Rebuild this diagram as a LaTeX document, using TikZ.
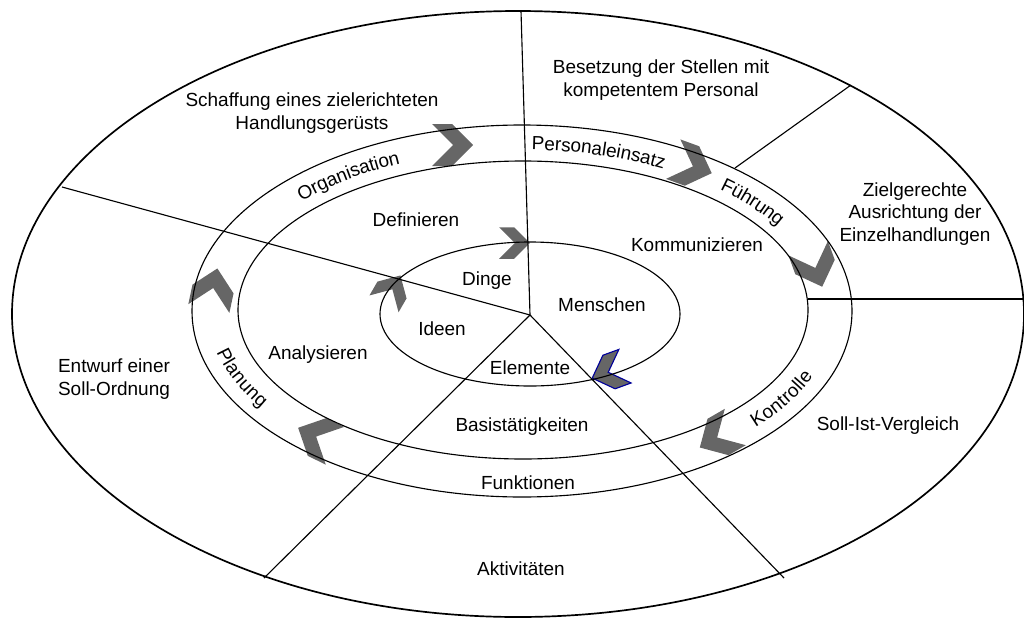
\documentclass[tikz,border=0pt]{standalone}
\usepackage{fontspec}
\setmainfont{Liberation Sans}
\usetikzlibrary{decorations.text}

\newcommand{\ringfont}{\fontsize{13.5}{16}\selectfont}

% fat office-style chevron, pointing along +x
\tikzset{
  pics/chevron/.style={code={
    \path[pic actions] (-20,-21) -- (0,-21) -- (21,0) -- (0,21) -- (-20,21) -- (1,0) -- cycle;
  }},
}

\begin{document}
\begin{tikzpicture}[
  x=0.025cm, y=-0.025cm,
  every node/.style={align=center, font=\ringfont, inner sep=0pt},
  word/.style={text height=9.7pt, text depth=0pt},
  ring/.style={line width=0.8pt},
  chev/.style={fill=black!60},
  bandtext/.style={decorate, decoration={text along path, text align=center,
                   raise=-0.17cm, text={|\ringfont|#1}}},
]
  \useasboundingbox (0,0) rectangle (1024,618);

  \coordinate (hub) at (530,315);
  \coordinate (mid) at (522,310.5);

  % Arrows round the band of functions
  \pic[chev] at (452,145) {chevron};
  \pic[chev, rotate=-20] at (692,166) {chevron};
  \pic[chev, rotate=-70] at (815,267) {chevron};
  \pic[chev, rotate=210] at (718,437) {chevron};
  \pic[chev, rotate=154] at (317,437) {chevron};
  \pic[chev, rotate=78] at (213,289) {chevron};
  % smaller ones on the inner ellipse
  \pic[chev, scale=0.8, rotate=60] at (392,290) {chevron};
  \pic[chev, scale=0.75] at (514,243) {chevron};
  \pic[chev, scale=0.85, rotate=200, draw=blue!60!black, line width=0.8pt] at (609,372) {chevron};

  % Ellipses
  \draw[line width=1.2pt] (518,314) ellipse [x radius=506, y radius=303];
  \draw[ring] (522,311) ellipse [x radius=330, y radius=186];
  \draw[ring] (523,310) ellipse [x radius=285, y radius=149];
  \draw[ring] (530,314) ellipse [x radius=150, y radius=72];

  % Spokes
  \coordinate (top) at (521,11);
  \coordinate (upleft) at (62,187);
  \coordinate (lowleft) at (264,578);
  \coordinate (lowright) at (784,578);
  \draw[ring] (hub) -- (top);
  \draw[ring] (hub) -- (upleft);
  \draw[ring] (hub) -- (lowleft);
  \draw[ring] (hub) -- (lowright);
  \draw[ring] (808,299) -- (1023,299);
  \draw[ring] (735,168) -- (851,85);

  % Band labels
  \path[bandtext=Organisation] ([shift={(208:307.5 and 167.5)}]mid)
    arc[start angle=208, end angle=258, x radius=307.5, y radius=167.5];
  \path[bandtext=Personaleinsatz] ([shift={(256:307.5 and 167.5)}]mid)
    arc[start angle=256, end angle=316, x radius=307.5, y radius=167.5];
  \path[bandtext=Führung] ([shift={(297:307.5 and 167.5)}]mid)
    arc[start angle=297, end angle=347, x radius=307.5, y radius=167.5];
  \path[bandtext=Kontrolle] ([shift={(54:307.5 and 167.5)}]mid)
    arc[start angle=54, end angle=4, x radius=307.5, y radius=167.5];
  \path[bandtext=Planung] ([shift={(184:307.5 and 167.5)}]mid)
    arc[start angle=184, end angle=134, x radius=307.5, y radius=167.5];

  % Outer sectors
  \node (stellen)   at (661,80)  {Besetzung der Stellen mit\\kompetentem Personal};
  \node (geruest)   at (312,113) {Schaffung eines zielerichteten\\Handlungsgerüsts};
  \node (ausricht)  at (915,214) {Zielgerechte\\Ausrichtung der\\Einzelhandlungen};
  \node (entwurf)   at (114,379) {Entwurf einer\\Soll-Ordnung};
  \node[word] (vergleich) at (888,424) {Soll-Ist-Vergleich};
  \node[word] (aktiv)     at (521,569) {Aktivitäten};

  % Band and inner sectors
  \node[word] (funkt)    at (528,483) {Funktionen};
  \node[word] (basis)    at (522,425) {Basistätigkeiten};
  \node[word] (analys)   at (318,353) {Analysieren};
  \node[word] (defin)    at (416,220) {Definieren};
  \node[word] (kommun)   at (697,245) {Kommunizieren};
  \node[word] (elem)     at (530,368) {Elemente};
  \node[word] (menschen) at (602,305) {Menschen};
  \node[word] (dinge)    at (487,279) {Dinge};
  \node[word] (ideen)    at (442,329) {Ideen};
\end{tikzpicture}
\end{document}
